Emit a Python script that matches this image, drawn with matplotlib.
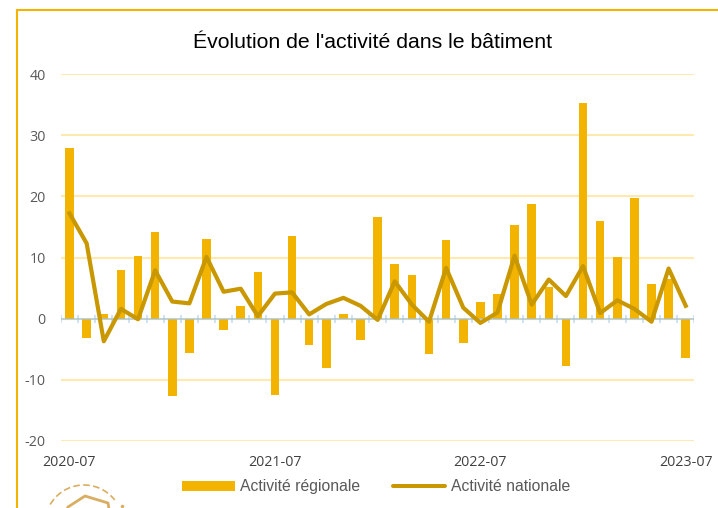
import matplotlib
matplotlib.use('Agg')
import matplotlib.pyplot as plt
from matplotlib.patches import Arc, Rectangle
import numpy as np
import pandas as pd

plt.rcParams['font.family'] = ['Liberation Sans', 'DejaVu Sans']

# valeurs
mois = pd.date_range('2020-07-01', '2023-07-01', freq='MS').strftime('%Y-%m').tolist()
regionale = [27.9, -3.1, 0.8, 7.9, 10.3, 14.2, -12.7, -5.6, 13.0, -1.8, 2.1, 7.7,
             -12.4, 13.5, -4.3, -8.0, 0.7, -3.5, 16.7, 8.9, 7.1, -5.7, 12.9, -3.9,
             2.8, 4.1, 15.3, 18.7, 5.1, -7.7, 35.3, 15.9, 10.1, 19.8, 5.6, 6.5, -6.4]
nationale = [17.2, 12.3, -3.7, 1.6, -0.1, 7.9, 2.8, 2.5, 10.1, 4.4, 4.9, 0.4,
             4.1, 4.3, 0.7, 2.4, 3.4, 2.1, -0.2, 6.1, 2.3, -0.5, 8.3, 1.8,
             -0.7, 1.0, 10.3, 2.3, 6.4, 3.7, 8.6, 0.9, 3.0, 1.6, -0.5, 8.2, 2.1]
graduations = [-20, -10, 0, 10, 20, 30, 40]
mois_affiches = ['2020-07', '2021-07', '2022-07', '2023-07']

W, H = 718, 508
fig = plt.figure(figsize=(W / 100, H / 100), dpi=100)
ax = fig.add_axes([61 / W, 1 - 441 / H, (694.3 - 61) / W, (441 - 74) / H])

x = np.arange(len(mois))
ax.bar(x, regionale, width=0.5, color='#F2B400', zorder=2, label='Activité régionale')
ax.plot(x, nationale, color='#C99700', lw=3, zorder=3, label='Activité nationale')

ax.set_xlim(-0.5, len(mois) - 0.5)
ax.set_ylim(-20, 40)
ax.set_yticks(graduations)
ax.set_yticklabels([str(g) for g in graduations], family=['Open Sans', 'DejaVu Sans'])
ax.yaxis.grid(True, color='#FFE9AE', lw=1.5)
ax.set_axisbelow(True)
for s in ax.spines.values():
    s.set_visible(False)
ax.tick_params(axis='y', length=0, labelsize=10.3, labelcolor='#595959', pad=11)
ax.set_xticks([])

# axe zero avec petites graduations bleues
ax.axhline(0, color='#9DC3E6', lw=1.5, alpha=0.6, zorder=2.5)
for xt in np.arange(len(mois) + 1) - 0.5:
    ax.plot([xt, xt], [-0.65, 0.65], color='#9DC3E6', lw=1.1, alpha=0.6, zorder=2.5, solid_capstyle='butt')

for m in mois_affiches:
    i = mois.index(m)
    fig.text((69.3 + i * 17.12) / W, 1 - 462 / H, m, ha='center', va='center',
             fontsize=10.3, color='#404040', family=['Open Sans', 'DejaVu Sans'])

fig.text(372.5 / W, 1 - 43 / H, "Évolution de l'activité dans le bâtiment", ha='center', va='center',
         fontsize=15.3, color='black')

# cadre orange
bg = fig.add_axes([0, 0, 1, 1], zorder=-1)
bg.set_xlim(0, W)
bg.set_ylim(H, 0)
bg.axis('off')
bg.plot([17, 17, W], [H, 9.8, 9.8], color='#F2B400', lw=1.5, solid_joinstyle='miter')

# legende placee a la main pour garder la meme ligne de base
bg.add_patch(Rectangle((182, 481), 53, 10, color='#F2B400', lw=0))
bg.plot([393, 445], [486, 486], color='#C99700', lw=2.9, solid_capstyle='round')
bg.text(240, 491, 'Activité régionale', fontsize=11.3, color='#595959', va='baseline')
bg.text(451, 491, 'Activité nationale', fontsize=11.3, color='#595959', va='baseline')

# logo coupe en bas
bg.add_patch(Arc((84, 524), 78, 78, theta1=210, theta2=322, color='#D9AE62', lw=1.2, ls=(0, (4, 2))))
bg.plot([122], [506], marker='o', ms=1.5, color='#D9AE62')
bg.plot([64, 68, 85, 108, 110], [515, 507, 496, 503, 515], color='#D9AE62', lw=2)

fig.savefig('out.png', dpi=100)
